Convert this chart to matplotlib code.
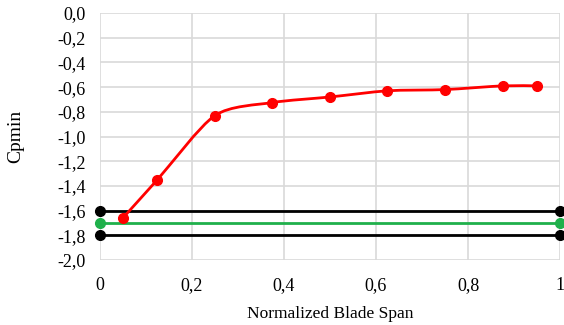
import matplotlib.pyplot as plt
from matplotlib.path import Path
from matplotlib.patches import PathPatch
import numpy as np

# data
span = [0.05, 0.125, 0.25, 0.375, 0.5, 0.625, 0.75, 0.875, 0.95]
cpmin = [-1.66, -1.35, -0.83, -0.725, -0.68, -0.63, -0.62, -0.59, -0.59]
limit_x = [0, 1]
upper_black = [-1.6, -1.6]
green = [-1.7, -1.7]
lower_black = [-1.8, -1.8]
xtick_labels = ['0', '0,2', '0,4', '0,6', '0,8', '1']
ytick_labels = ['-2,0', '-1,8', '-1,6', '-1,4', '-1,2', '-1,0',
                '-0,8', '-0,6', '-0,4', '-0,2', '0,0']

plt.rcParams['font.family'] = ['Liberation Serif', 'DejaVu Serif']


def smooth_path(x, y, t=0.13):
    # Excel-like smoothed line as cubic Bezier segments
    x = np.asarray(x); y = np.asarray(y)
    verts = [(x[0], y[0])]
    codes = [Path.MOVETO]
    n = len(x)
    for i in range(n - 1):
        p0 = np.array([x[max(i - 1, 0)], y[max(i - 1, 0)]])
        p1 = np.array([x[i], y[i]])
        p2 = np.array([x[i + 1], y[i + 1]])
        p3 = np.array([x[min(i + 2, n - 1)], y[min(i + 2, n - 1)]])
        c1 = p1 + (p2 - p0) * t
        c2 = p2 - (p3 - p1) * t
        verts += [tuple(c1), tuple(c2), tuple(p2)]
        codes += [Path.CURVE4] * 3
    return Path(verts, codes)


fig = plt.figure(figsize=(5.64, 3.25), dpi=100)
ax = fig.add_axes([0.177, 0.2, 0.816, 0.76])

ax.set_xlim(0, 1)
ax.set_ylim(-2.0, 0.0)
ax.set_xticks(np.linspace(0, 1, 6))
ax.set_yticks(np.linspace(-2.0, 0.0, 11))
ax.set_xticklabels(xtick_labels)
ax.set_yticklabels(ytick_labels)
ax.grid(True, color='#d9d9d9', linewidth=1.2)
ax.set_axisbelow(True)
for s in ax.spines.values():
    s.set_visible(False)
ax.tick_params(length=0, labelsize=13)
ax.tick_params(axis='x', pad=12)
ax.tick_params(axis='y', pad=10)

for yy, col in [(upper_black, 'black'), (green, '#1fb04b'), (lower_black, 'black')]:
    ax.plot(limit_x, yy, color=col, lw=2, marker='o', ms=7, clip_on=False, zorder=3)

ax.add_patch(PathPatch(smooth_path(span, cpmin), facecolor='none', edgecolor='#ff0000',
                       lw=2, zorder=4))
ax.plot(span, cpmin, 'o', color='#ff0000', ms=7, zorder=5)

ax.set_xlabel('Normalized Blade Span', fontsize=12.5, labelpad=9)
ax.set_ylabel('Cpmin', fontsize=14, labelpad=24)

fig.savefig('out.png')
